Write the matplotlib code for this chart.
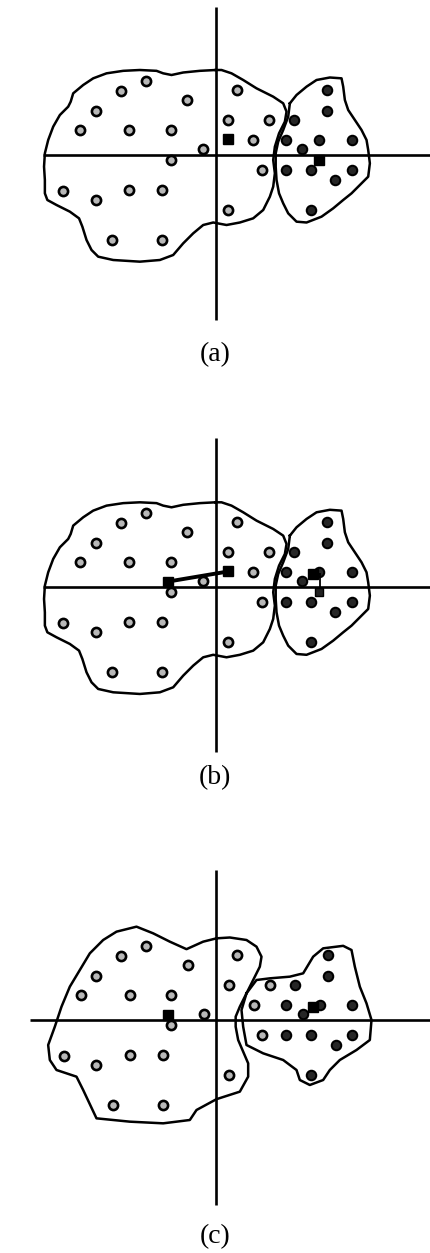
import numpy as np
import matplotlib
matplotlib.use("Agg")
import matplotlib.pyplot as plt

# ---- data (grid units, origin at the axis crossing) ----
# objects that start in cluster 1 (light markers)
light_x = [-8.4, -11.4, -3.4, -14.4, -16.3, -10.4, -5.4, -1.5, -5.4, -18.3, -14.4, -10.4,
           -6.4, -12.4, -6.4, 2.5, 1.5, 6.4, 4.5, 5.5, 1.5]
light_y = [8.9, 7.7, 6.6, 5.3, 3.0, 3.0, 3.0, 0.7, -0.6, -4.3, -5.4, -4.2,
           -4.2, -10.2, -10.2, 7.8, 4.2, 4.2, 1.8, -1.8, -6.6]
# objects that start in cluster 2 (dark markers)
dark_x = [13.4, 13.4, 9.4, 8.4, 12.4, 16.3, 10.4, 8.4, 11.4, 16.3, 14.3, 11.4]
dark_y = [7.8, 5.3, 4.2, 1.8, 1.8, 1.8, 0.7, -1.8, -1.8, -1.8, -3.0, -6.6]

# cluster centres at each stage
centers_a_x = [1.5, 12.4]
centers_a_y = [1.9, -0.6]
centers_b_x = [-5.76, 11.64]
centers_b_y = [0.68, 1.6]
centers_c_x = [-5.8, 11.6]
centers_c_y = [0.6, 1.6]

# cluster outlines for stages (a) and (b)
left_ab_x = [0.0, -1.9, -3.9, -5.3, -6.3, -7.1, -9.1, -11.1, -13.1, -14.7, -15.9, -17.1,
             -17.4, -17.7, -18.7, -19.5, -20.1, -20.5, -20.6, -20.5, -20.5, -20.2, -19.1,
             -17.5, -16.4, -16.0, -15.5, -14.9, -14.1, -12.3, -9.1, -6.7, -5.1, -3.9, -2.7,
             -1.5, -0.3, 1.3, 2.9, 4.5, 5.7, 6.5, 6.9, 7.1, 6.9, 7.1, 7.6, 8.3, 8.5, 8.1,
             6.9, 4.9, 3.3, 1.9, 0.7]
left_ab_y = [10.2, 10.1, 9.9, 9.6, 9.8, 10.1, 10.2, 10.1, 9.8, 9.2, 8.4, 7.4,
             6.4, 5.8, 4.8, 3.4, 1.8, 0.2, -1.4, -3.0, -4.6, -5.4, -6.0,
             -6.8, -7.6, -8.6, -10.2, -11.4, -12.2, -12.6, -12.8, -12.6, -12.0, -10.6, -9.4,
             -8.4, -8.1, -8.4, -8.1, -7.6, -6.6, -5.0, -3.8, -2.2, -0.6, 1.0, 2.6, 4.0, 5.2, 6.2,
             7.0, 8.0, 9.0, 9.8, 10.2]
right_ab_x = [8.9, 9.7, 10.9, 12.1, 13.7, 15.1, 15.3, 15.5, 15.9, 16.7, 17.5, 18.1,
              18.3, 18.5, 18.3, 17.3, 16.3, 15.3, 14.1, 12.7, 10.9, 9.7, 8.7, 8.1,
              7.6, 7.3, 7.2, 7.2, 7.5, 8.1, 8.7]
right_ab_y = [6.2, 7.2, 8.2, 9.0, 9.3, 9.2, 8.2, 6.6, 5.4, 4.2, 3.0, 1.8,
              0.6, -1.0, -2.6, -3.6, -4.6, -5.4, -6.4, -7.4, -8.1, -8.0, -7.0, -5.8,
              -4.6, -3.0, -1.4, 0.2, 1.6, 3.0, 4.6]

# cluster outlines for stage (c)
left_c_x = [0.0, 1.6, 3.6, 4.8, 5.4, 5.2, 4.6, 4.0, 3.4, 2.8, 2.3, 2.3, 2.6, 3.2, 3.8, 3.8,
            2.8, 0.0, -2.4, -3.2, -6.4, -10.4, -14.4, -16.0, -16.8, -19.2, -20.0, -20.2,
            -19.4, -18.6, -17.6, -16.4, -15.2, -13.6, -12.0, -9.6, -7.6, -5.6, -3.6, -1.6]
left_c_y = [9.8, 9.9, 9.6, 8.8, 7.6, 6.4, 5.2, 4.0, 2.8, 1.6, 0.4, -0.8, -2.4, -3.8, -5.2, -6.8,
            -8.6, -9.5, -10.8, -12.0, -12.4, -12.2, -11.8, -8.4, -6.8, -6.0, -4.8, -3.0,
            -0.8, 1.6, 4.0, 6.0, 8.0, 9.6, 10.6, 11.2, 10.4, 9.4, 8.5, 9.4]
right_c_x = [3.6, 4.8, 6.4, 8.8, 10.4, 11.6, 12.8, 15.2, 16.2, 16.6, 17.2, 18.0, 18.6, 18.4,
             16.8, 14.8, 13.6, 12.8, 11.2, 10.0, 9.6, 8.0, 5.6, 3.6, 3.2, 3.0]
right_c_y = [3.2, 4.8, 5.0, 5.2, 5.6, 7.6, 8.6, 8.9, 8.4, 6.4, 4.0, 2.0, 0.0, -2.4,
             -3.6, -4.8, -6.0, -7.2, -7.8, -7.2, -6.0, -4.8, -4.0, -3.0, -0.8, 1.2]

panel_labels = ["(a)", "(b)", "(c)"]

# ---- layout (pixels) ----
W, H = 431, 1253
S = 25.0 / 3.0  # pixels per grid unit

fig = plt.figure(figsize=(W / 100, H / 100), dpi=100)
fig.patch.set_facecolor("white")


def make_axes(ox, oy, top, bottom):
    ax = fig.add_axes([0, 1 - bottom / H, 1, (bottom - top) / H])
    ax.set_xlim(-ox / S, (W - ox) / S)
    ax.set_ylim((oy - bottom) / S, (oy - top) / S)
    ax.axis("off")
    return ax


def draw_panel(ax, vtop, vbot, hleft, outlines, cx, cy):
    ax.plot([0, 0], [vbot, vtop], color="black", lw=1.9, solid_capstyle="butt", zorder=1)
    ax.plot([hleft, 40], [0, 0], color="black", lw=1.9, solid_capstyle="butt", zorder=1)
    for ox_, oy_ in outlines:
        xs = list(ox_) + [ox_[0]]
        ys = list(oy_) + [oy_[0]]
        ax.plot(xs, ys, color="black", lw=1.8, solid_joinstyle="round", zorder=2)
    ax.plot(light_x, light_y, "o", ms=6.6, mfc="#b8b8b8", mec="black", mew=1.9, zorder=3)
    ax.plot(dark_x, dark_y, "o", ms=6.8, mfc="#262626", mec="black", mew=1.5, zorder=3)
    ax.plot(cx, cy, "s", ms=7.0, mfc="black", mec="black", zorder=5)


ax_a = make_axes(215.7, 155.0, 0, 340)
draw_panel(ax_a, 17.8, -19.8, -20.7,
           [(left_ab_x, left_ab_y), (right_ab_x, right_ab_y)], centers_a_x, centers_a_y)

ax_b = make_axes(215.7, 587.3, 420, 765)
draw_panel(ax_b, 17.9, -19.8, -20.7,
           [(left_ab_x, left_ab_y), (right_ab_x, right_ab_y)], centers_b_x, centers_b_y)
# centre movement between iterations
ax_b.plot([centers_b_x[0], centers_a_x[0]], [centers_b_y[0], centers_a_y[0]],
          color="black", lw=2.8, zorder=4)
ax_b.plot(centers_a_x[0], centers_a_y[0], "s", ms=7.0, mfc="black", mec="black", zorder=5)
ax_b.plot([centers_b_x[1], centers_a_x[1] + 0.1], [centers_b_y[1], centers_b_y[1]],
          color="black", lw=1.3, zorder=4)
ax_b.plot([centers_a_x[1] + 0.1, centers_a_x[1] + 0.1], [centers_b_y[1], centers_a_y[1]],
          color="black", lw=1.3, zorder=4)
ax_b.plot(centers_a_x[1], centers_a_y[1], "s", ms=5.5, mfc="#222222", mec="black", zorder=5)

ax_c = make_axes(216.5, 1020.0, 850, 1215)
draw_panel(ax_c, 18.0, -22.2, -22.4,
           [(left_c_x, left_c_y), (right_c_x, right_c_y)], centers_c_x, centers_c_y)

for lbl, ypx in zip(panel_labels, [355, 778, 1237]):
    fig.text(215 / W, 1 - ypx / H, lbl, ha="center", va="center",
             fontsize=20, family=["Liberation Serif", "DejaVu Serif"])

fig.savefig("out.png", dpi=100, facecolor="white")
